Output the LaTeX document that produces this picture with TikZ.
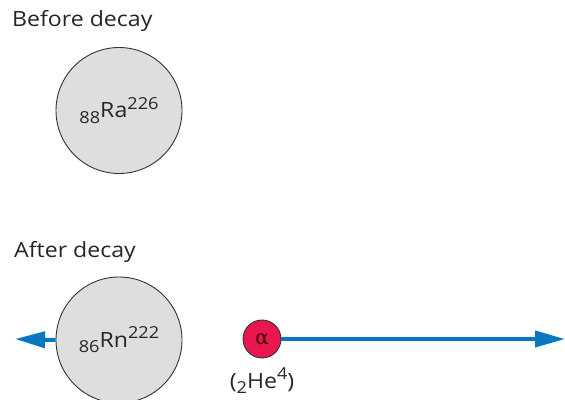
\documentclass[tikz,border=0pt]{standalone}
\usepackage{fontspec}
\setmainfont[FakeStretch=1.1]{Open Sans}
\newfontfamily\grk{DejaVu Serif}
\usetikzlibrary{arrows.meta}
\definecolor{nucfill}{HTML}{DEDEDE}
\definecolor{nucline}{HTML}{333333}
\definecolor{arrblue}{HTML}{0A77C2}
\definecolor{alphared}{HTML}{E8174F}
\newcommand{\isotope}[3]{{\fontsize{16.5}{16.5}\selectfont\raisebox{-5.5pt}{#1}}#2{\fontsize{16.5}{16.5}\selectfont\raisebox{8.5pt}{#3}}}
\tikzset{
  nucleus/.style={circle, draw=nucline, line width=0.9pt, fill=nucfill, minimum size=126pt, inner sep=0pt, font=\fontsize{21}{21}\selectfont, text=black!85},
  alphap/.style={circle, draw=black!80, line width=0.9pt, fill=alphared, minimum size=38pt, inner sep=0pt, font=\fontsize{20}{20}\grk, text=black!75!red},
  heading/.style={anchor=west, font=\fontsize{21}{21}\selectfont, text=black!85, inner sep=0pt},
  motion/.style={draw=arrblue, line width=4pt, -{Triangle[length=30pt,width=16pt]}}
}
\begin{document}
\begin{tikzpicture}[x=1pt,y=-1pt]
\useasboundingbox (0,0) rectangle (565,399);
\begin{scope}
\clip (0,0) rectangle (565,399);
\node[heading] (before) at (12,21) {Before decay};
\node[nucleus] (ra) at (119,110.5) {\isotope{88}{Ra}{226}};
\node[heading] (after) at (14,252) {After decay};
\node[nucleus] (rn) at (119,340) {\isotope{86}{Rn}{222}};
\node[alphap] (al) at (262,339) {α};
\node[font=\fontsize{21}{21}\selectfont, text=black!85, inner sep=0pt] (he) at (262,381) {({\fontsize{16.5}{16.5}\selectfont\raisebox{-5.5pt}{2}}He{\fontsize{16.5}{16.5}\selectfont\raisebox{8.5pt}{4}})};
\coordinate (ltip) at (15,339);
\coordinate (rtip) at (565,339);
\draw[motion] (rn.west) -- (ltip);
\draw[motion] (al.east) -- (rtip);
\end{scope}
\end{tikzpicture}
\end{document}
